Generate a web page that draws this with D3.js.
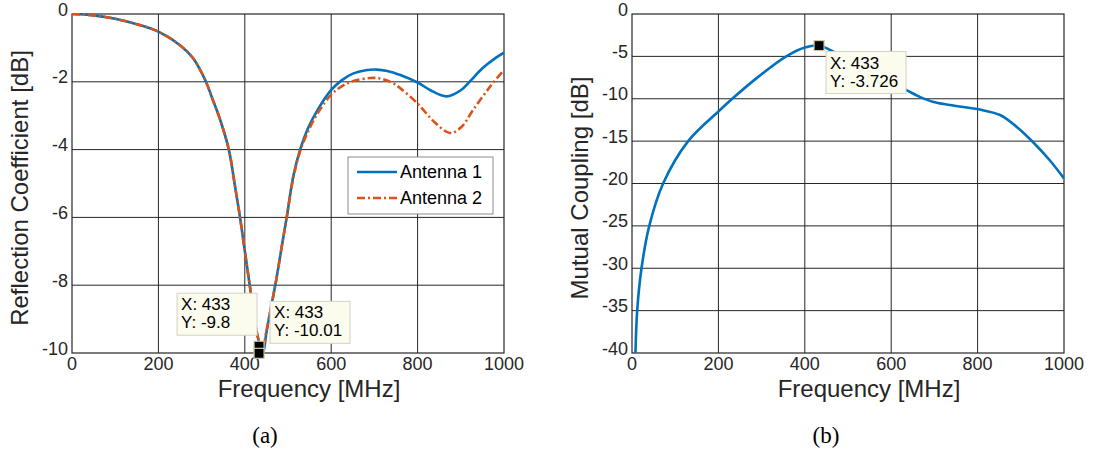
<!DOCTYPE html>
<html>
<head>
<meta charset="utf-8">
<script src="https://cdn.jsdelivr.net/npm/d3@7"></script>
<style>
  body { margin: 0; background: #fff; }
  text { font-family: "Liberation Sans", Arial, sans-serif; fill: #262626; }
  .caption { font-family: "Liberation Serif", "DejaVu Serif", serif; fill: #000; }
</style>
</head>
<body>
<svg width="1100" height="453"></svg>
<script>
// ---- data ----
const freqTicks = [0, 200, 400, 600, 800, 1000];
const reflTicks = [0, -2, -4, -6, -8, -10];
const couplTicks = [0, -5, -10, -15, -20, -25, -30, -35, -40];

// antenna 1, reflection coefficient
const ant1Freq = [0, 50, 100, 150, 200, 250, 280, 308, 325, 343, 363, 377, 389, 399, 412, 425, 435, 442,
  450, 460, 472, 485, 497, 512, 528, 547, 570, 600, 625, 650, 680, 705, 730, 760, 800, 830, 867, 900, 921, 950, 980, 1000];
const ant1Db = [0, -0.04, -0.14, -0.3, -0.52, -0.92, -1.3, -1.94, -2.5, -3.12, -4.0, -5.05, -6.0, -6.9, -8.05, -9.2, -9.8, -10.01,
  -9.4, -8.7, -7.9, -6.9, -6.0, -4.8, -4.0, -3.35, -2.8, -2.24, -1.95, -1.76, -1.66, -1.64, -1.68, -1.8, -2.02, -2.25, -2.43, -2.25, -1.99, -1.6, -1.3, -1.14];

// antenna 2
const ant2Freq = [0, 50, 100, 150, 200, 250, 280, 308, 325, 343, 363, 377, 389, 399, 412, 425, 435, 442,
  450, 460, 472, 485, 497, 512, 528, 547, 570, 600, 625, 650, 690, 713, 740, 759, 799, 840, 875, 900, 929, 968, 1000];
const ant2Db = [0, -0.04, -0.14, -0.3, -0.52, -0.92, -1.3, -1.94, -2.5, -3.12, -4.0, -5.05, -6.0, -6.9, -8.05, -9.2, -9.7, -9.8,
  -9.35, -8.7, -7.9, -6.9, -6.0, -4.85, -4.05, -3.45, -2.9, -2.38, -2.13, -1.98, -1.89, -1.9, -2.02, -2.18, -2.63, -3.2, -3.51, -3.35, -2.82, -2.14, -1.65];

// mutual coupling
const couplFreq = [8, 12, 22, 40, 72, 130, 200, 232, 295, 357, 400, 433, 457, 500, 550, 600, 634, 665, 696, 736, 802, 852, 890, 928, 966, 1000];
const couplDb = [-40, -35, -30, -25, -20, -15, -11.5, -10, -7.3, -5.0, -3.95, -3.726, -4.2, -5.4, -6.9, -8.2, -8.95, -9.75, -10.35, -10.74, -11.25, -11.92, -13.3, -15.1, -17.2, -19.4];

// data tips
const tipsA = [{ x: 433, y: -9.8, label: "-9.8", dx: -82, dy: -53 }, { x: 433, y: -10.01, label: "-10.01", dx: 11, dy: -52 }];
const tipsB = [{ x: 433, y: -3.726, label: "-3.726", dx: 7, dy: 6 }];

const blue = "#0072BD", orange = "#D95319";

const svg = d3.select("svg");

function toPts(xs, ys) { return xs.map((x, i) => [x, ys[i]]); }

function panel(opt) {
  const x = d3.scaleLinear().domain([0, 1000]).range([opt.left, opt.right]);
  const y = d3.scaleLinear().domain(opt.yDomain).range([353, 14]);
  const g = svg.append("g");

  // grid
  g.append("g").selectAll("line").data(opt.xTicks.slice(1, -1)).join("line")
    .attr("x1", d => x(d)).attr("x2", d => x(d)).attr("y1", 14).attr("y2", 353)
    .attr("stroke", "#262626").attr("stroke-width", 1);
  g.append("g").selectAll("line").data(opt.yTicks.slice(1, -1)).join("line")
    .attr("x1", opt.left).attr("x2", opt.right).attr("y1", d => y(d)).attr("y2", d => y(d))
    .attr("stroke", "#262626").attr("stroke-width", 1);

  // box
  g.append("rect").attr("x", opt.left).attr("y", 14)
    .attr("width", opt.right - opt.left).attr("height", 339)
    .attr("fill", "none").attr("stroke", "#262626").attr("stroke-width", 1.2);

  // tick labels
  g.append("g").selectAll("text").data(opt.xTicks).join("text")
    .attr("x", d => x(d)).attr("y", 370).attr("text-anchor", "middle")
    .attr("font-size", 18).text(d => d);
  g.append("g").selectAll("text").data(opt.yTicks).join("text")
    .attr("x", opt.left - 4).attr("y", d => y(d) + 1.5).attr("text-anchor", "end")
    .attr("font-size", 18).text(d => d);

  // axis labels (sit a bit right of the plot centre, as in the picture)
  g.append("text").attr("x", (opt.left + opt.right) / 2 + 21).attr("y", 397)
    .attr("text-anchor", "middle").attr("font-size", 24).text("Frequency [MHz]");
  g.append("text").attr("transform", `translate(${opt.yLabelX},188) rotate(-90)`)
    .attr("text-anchor", "middle").attr("font-size", 24).text(opt.yLabel);

  g.append("text").attr("class", "caption").attr("x", opt.captionX).attr("y", 443)
    .attr("text-anchor", "middle").attr("font-size", 23).text(opt.caption);

  const clipId = "clip" + opt.caption.replace(/\W/g, "");
  svg.append("clipPath").attr("id", clipId).append("rect")
    .attr("x", opt.left).attr("y", 13).attr("width", opt.right - opt.left).attr("height", 341);

  const line = d3.line().x(d => x(d[0])).y(d => y(d[1])).curve(d3.curveCatmullRom.alpha(0.5));
  const lines = g.append("g").attr("clip-path", `url(#${clipId})`);
  opt.series.forEach(s => {
    lines.append("path").attr("d", line(s.pts)).attr("fill", "none")
      .attr("stroke", s.color).attr("stroke-width", 2.6)
      .attr("stroke-dasharray", s.dash || null);
  });

  // data tips
  opt.tips.forEach(t => {
    const mx = x(t.x), my = y(t.y);
    const bx = mx + t.dx, by = my + t.dy;
    g.append("rect").attr("x", bx).attr("y", by).attr("width", 80).attr("height", 42)
      .attr("fill", "#fbfbee").attr("stroke", "#d2d2c4").attr("stroke-width", 1);
    g.append("text").attr("x", bx + 4).attr("y", by + 17).attr("font-size", 17)
      .style("fill", "#000").text("X: " + t.x);
    g.append("text").attr("x", bx + 4).attr("y", by + 35).attr("font-size", 17)
      .style("fill", "#000").text("Y: " + t.label);
  });
  opt.tips.forEach(t => {
    g.append("rect").attr("x", x(t.x) - 5).attr("y", y(t.y) - 5).attr("width", 10).attr("height", 10)
      .attr("fill", "#000").attr("stroke", "#cfc7a6").attr("stroke-width", 1.2);
  });
  return { x, y, g };
}

const a = panel({
  left: 72, right: 504, yDomain: [-10, 0], xTicks: freqTicks, yTicks: reflTicks,
  yLabel: "Reflection Coefficient [dB]", yLabelX: 28, caption: "(a)", captionX: 265,
  series: [
    { pts: toPts(ant1Freq, ant1Db), color: blue },
    { pts: toPts(ant2Freq, ant2Db), color: orange, dash: "8,3,2,3" }
  ],
  tips: tipsA
});

const b = panel({
  left: 632, right: 1064, yDomain: [-40, 0], xTicks: freqTicks, yTicks: couplTicks,
  yLabel: "Mutual Coupling [dB]", yLabelX: 588, caption: "(b)", captionX: 826,
  series: [{ pts: toPts(couplFreq, couplDb), color: blue }],
  tips: tipsB
});

// legend
const legendNames = ["Antenna 1", "Antenna 2"];
const legendColors = [blue, orange];
const legendDash = [null, "8,3,2,3"];
const lg = a.g.append("g");
lg.append("rect").attr("x", 348).attr("y", 157).attr("width", 145).attr("height", 57)
  .attr("fill", "#fff").attr("stroke", "#8c8c8c").attr("stroke-width", 1);
legendNames.forEach((n, i) => {
  const yy = 172 + i * 26;
  lg.append("line").attr("x1", 357).attr("x2", 397).attr("y1", yy).attr("y2", yy)
    .attr("stroke", legendColors[i]).attr("stroke-width", 2.6).attr("stroke-dasharray", legendDash[i]);
  lg.append("text").attr("x", 400).attr("y", yy + 6).attr("font-size", 18)
    .style("fill", "#000").text(n);
});
</script>
</body>
</html>
